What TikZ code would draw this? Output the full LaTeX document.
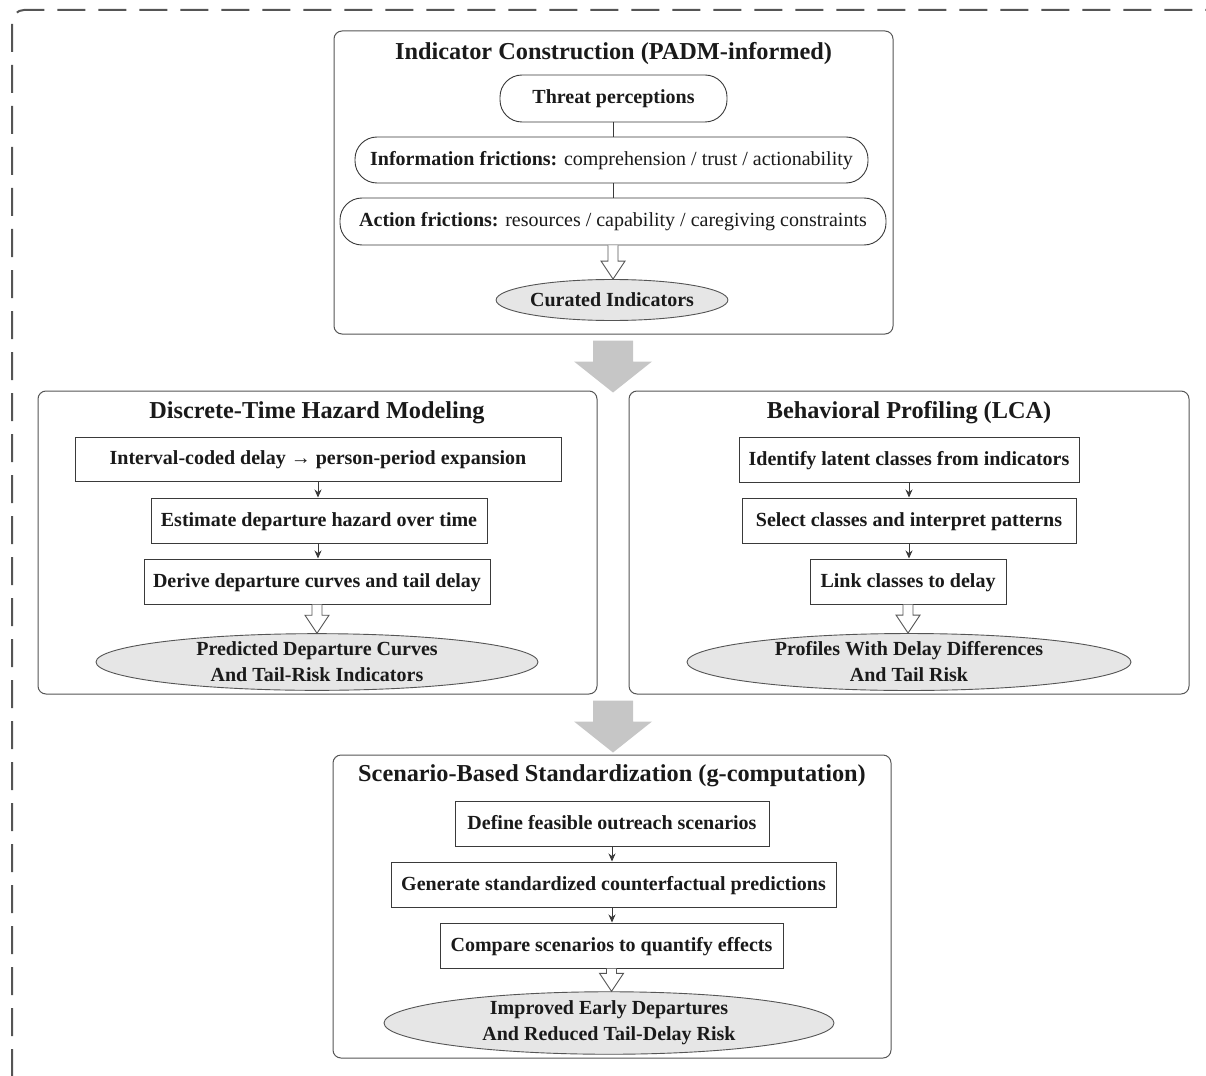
\documentclass[tikz,border=0pt]{standalone}
\usepackage{fontspec}
\setmainfont{Liberation Serif}
\usetikzlibrary{arrows.meta,calc,shapes.geometric}
\definecolor{txt}{HTML}{1A1A1A}
\definecolor{edge}{HTML}{555555}
\definecolor{boxedge}{HTML}{3A3A3A}
\definecolor{ellfill}{HTML}{E6E6E6}
\definecolor{bigarrow}{HTML}{C6C6C6}
\tikzset{
  panel/.style={draw=edge, line width=1pt, rounded corners=8pt, fill=white, inner sep=0pt},
  ptitle/.style={font=\fontsize{24.3}{28}\selectfont\bfseries, text=txt, inner sep=0pt},
  pill/.style={draw=boxedge, line width=0.9pt, rounded corners=22pt, fill=white, inner sep=0pt, font=\fontsize{20}{24}\selectfont, text=txt, text height=15pt, text depth=4pt},
  stepbox/.style={draw=boxedge, line width=1pt, fill=white, inner sep=0pt, font=\fontsize{20}{24}\selectfont\bfseries, text=txt, text height=15.5pt, text depth=4pt},
  outell/.style={ellipse, draw=edge, line width=0.9pt, fill=ellfill, inner sep=0pt, font=\fontsize{20}{26}\selectfont\bfseries, text=txt, align=center},
  conn/.style={draw=boxedge, line width=0.9pt, -{Stealth[length=8pt,width=7pt]}},
  plainconn/.style={draw=boxedge, line width=0.9pt},
  hollow/.style={draw=edge, line width=0.9pt, fill=white},
  bigarr/.style={fill=bigarrow, draw=none}
}
\newcommand{\hollowarrow}[2]{%
  \path[hollow] let \p1=(#1.south), \p2=(#2.north) in
    (\x1-5pt,\y1) -- (\x1-5pt,\y2+18pt) -- (\x1-12pt,\y2+18pt) -- (\x1,\y2)
    -- (\x1+12pt,\y2+18pt) -- (\x1+5pt,\y2+18pt) -- (\x1+5pt,\y1);}
\newcommand{\bigarrowdraw}[2]{%
  \path[bigarr] let \p1=(#1.south), \p2=(#2) in
    (\x2-20pt,\y1-6pt) -- (\x2-20pt,\y1-27pt) -- (\x2-39pt,\y1-27pt) -- (\x2,\y1-58pt)
    -- (\x2+39pt,\y1-27pt) -- (\x2+20pt,\y1-27pt) -- (\x2+20pt,\y1-6pt) -- cycle;}
\begin{document}
\begin{tikzpicture}[x=1pt,y=-1pt]
\useasboundingbox (0,0) rectangle (1206,1075);
% dashed outer frame
\begin{scope}
\clip (0,0) rectangle (1206,1075);
\draw[edge, line width=2pt, dash pattern=on 28pt off 13pt, rounded corners=12pt]
  (12,1077) -- (12,10) -- (1260,10);
\end{scope}

% ---------- Panel 1 ----------
\node[panel, minimum width=559pt, minimum height=303pt] (p1) at (613.5,182.5) {};
\node[ptitle] (t1) at (613.5,54) {Indicator Construction (PADM-informed)};
\node[pill, minimum width=227pt, minimum height=47pt] (thr) at (613.5,98.5) {\bfseries Threat perceptions};
\node[pill, minimum width=513pt, minimum height=46pt] (inf) at (611.5,160) {\textbf{Information frictions:} comprehension / trust / actionability};
\node[pill, minimum width=546pt, minimum height=47pt] (act) at (613,221.5) {\textbf{Action frictions:} resources / capability / caregiving constraints};
\node[outell, minimum width=188pt, minimum height=41pt] (cur) at (612,300) {Curated Indicators};
\draw[plainconn] (thr.south) -- (thr.south |- inf.north);
\draw[plainconn] (inf.south -| thr.south) -- (thr.south |- act.north);
\hollowarrow{act}{cur}

% ---------- Panel 2 ----------
\node[panel, minimum width=559pt, minimum height=303pt] (p2) at (317.5,542.5) {};
\node[ptitle] (t2) at (317,413) {Discrete-Time Hazard Modeling};
\node[stepbox, minimum width=486pt, minimum height=44pt] (l1) at (318,459) {Interval-coded delay → person-period expansion};
\node[stepbox, minimum width=336pt, minimum height=45pt] (l2) at (319,520.5) {Estimate departure hazard over time};
\node[stepbox, minimum width=346pt, minimum height=45pt] (l3) at (317,581.5) {Derive departure curves and tail delay};
\node[outell, minimum width=442pt, minimum height=54pt] (le) at (317,662) {Predicted Departure Curves\\And Tail-Risk Indicators};
\draw[conn] (l1.south) -- (l1.south |- l2.north);
\draw[conn] (l2.south -| l1.south) -- (l1.south |- l3.north);
\hollowarrow{l3}{le}

% ---------- Panel 3 ----------
\node[panel, minimum width=560pt, minimum height=303pt] (p3) at (909,542.5) {};
\node[ptitle] (t3) at (909,413) {Behavioral Profiling (LCA)};
\node[stepbox, minimum width=340pt, minimum height=45pt] (r1) at (909,459.5) {Identify latent classes from indicators};
\node[stepbox, minimum width=334pt, minimum height=45pt] (r2) at (909,520.5) {Select classes and interpret patterns};
\node[stepbox, minimum width=196pt, minimum height=45pt] (r3) at (908,581.5) {Link classes to delay};
\node[outell, minimum width=444pt, minimum height=54pt] (re) at (909,662) {Profiles With Delay Differences\\And Tail Risk};
\draw[conn] (r1.south) -- (r2.north);
\draw[conn] (r2.south) -- (r2.south |- r3.north);
\hollowarrow{r3}{re}

% ---------- Panel 4 ----------
\node[panel, minimum width=558pt, minimum height=303pt] (p4) at (612,906.5) {};
\node[ptitle] (t4) at (612,776) {Scenario-Based Standardization (g-computation)};
\node[stepbox, minimum width=314pt, minimum height=45pt] (s1) at (612,823.5) {Define feasible outreach scenarios};
\node[stepbox, minimum width=445pt, minimum height=45pt] (s2) at (613.5,884.5) {Generate standardized counterfactual predictions};
\node[stepbox, minimum width=343pt, minimum height=45pt] (s3) at (611.5,945.5) {Compare scenarios to quantify effects};
\node[outell, minimum width=450pt, minimum height=56pt] (se) at (609,1023) {Improved Early Departures\\And Reduced Tail-Delay Risk};
\draw[conn] (s1.south) -- (s1.south |- s2.north);
\draw[conn] (s2.south -| s1.south) -- (s1.south |- s3.north);
\hollowarrow{s3}{se}

% ---------- big gray arrows ----------
\coordinate (a1) at (613,0);
\bigarrowdraw{p1}{a1}
\coordinate (a2) at (613,0);
\bigarrowdraw{p2}{a2}
\end{tikzpicture}
\end{document}
